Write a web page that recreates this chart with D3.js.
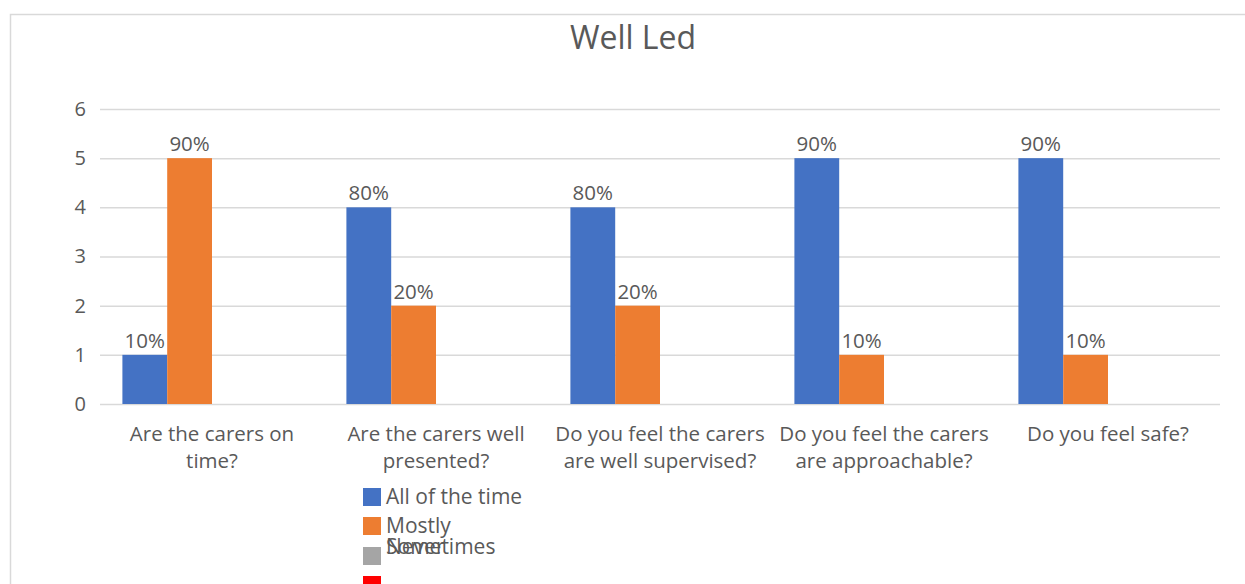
<!DOCTYPE html>
<html>
<head>
<meta charset="utf-8">
<script src="https://cdn.jsdelivr.net/npm/d3@7"></script>
<style>
  html, body { margin: 0; padding: 0; background: #fff; }
  svg { display: block; }
  text { font-family: "Open Sans", sans-serif; fill: #595959; }
</style>
</head>
<body>
<svg id="chart" width="1245" height="584"></svg>
<script>
const title = "Well Led";
const categories = [
  "Are the carers on time?",
  "Are the carers well presented?",
  "Do you feel the carers are well supervised?",
  "Do you feel the carers are approachable?",
  "Do you feel safe?"
];
const seriesNames = ["All of the time", "Mostly", "Sometimes", "Never"];
const allOfTheTime = [1, 4, 4, 5, 5];
const mostly = [5, 2, 2, 1, 1];
const sometimes = [0, 0, 0, 0, 0];
const never = [0, 0, 0, 0, 0];
const allOfTheTimeLabels = ["10%", "80%", "80%", "90%", "90%"];
const mostlyLabels = ["90%", "20%", "20%", "10%", "10%"];
const sometimesLabels = ["", "", "", "", ""];
const neverLabels = ["", "", "", "", ""];
const yTicks = [0, 1, 2, 3, 4, 5, 6];
const colors = ["#4472C4", "#ED7D31", "#A5A5A5", "#FF0000"];

const seriesValues = [allOfTheTime, mostly, sometimes, never];
const seriesLabels = [allOfTheTimeLabels, mostlyLabels, sometimesLabels, neverLabels];

const svg = d3.select("#chart");

// chart frame
svg.append("rect")
  .attr("x", 10.5).attr("y", 14.5)
  .attr("width", 1245).attr("height", 600)
  .attr("fill", "none").attr("stroke", "#d9d9d9").attr("stroke-width", 1.5);

const plot = { left: 100, right: 1220, top: 109, bottom: 404 };

const x0 = d3.scaleBand().domain(categories).range([plot.left, plot.right]).padding(0);
const x1 = d3.scaleBand().domain(seriesNames).range([0, x0.bandwidth()]).paddingInner(0).paddingOuter(0.5);
const y = d3.scaleLinear().domain([0, 6]).range([plot.bottom, plot.top]);

// title
svg.append("text")
  .attr("x", 633).attr("y", 49)
  .attr("text-anchor", "middle")
  .style("font-size", "32px")
  .text(title);

// gridlines
svg.append("g")
  .attr("transform", `translate(${plot.left},0)`)
  .call(d3.axisLeft(y).tickValues(yTicks).tickSize(-(plot.right - plot.left)).tickFormat(d3.format("d")))
  .call(g => g.select(".domain").remove())
  .call(g => g.selectAll(".tick line").attr("stroke", "#d9d9d9").attr("stroke-width", 1.5))
  .call(g => g.selectAll(".tick text").attr("x", -14).style("font-size", "20px").attr("fill", "#595959"));

// bars
const groups = svg.append("g").selectAll("g")
  .data(seriesNames)
  .join("g")
  .attr("fill", (d, i) => colors[i]);

groups.each(function(s, si) {
  const g = d3.select(this);
  g.selectAll("rect")
    .data(categories.map((c, ci) => ({ c, v: seriesValues[si][ci] })))
    .join("rect")
    .attr("x", d => x0(d.c) + x1(s))
    .attr("y", d => y(d.v))
    .attr("width", x1.bandwidth())
    .attr("height", d => y(0) - y(d.v));
  g.selectAll("text")
    .data(categories.map((c, ci) => ({ c, v: seriesValues[si][ci], l: seriesLabels[si][ci] })))
    .join("text")
    .attr("x", d => x0(d.c) + x1(s) + x1.bandwidth() / 2)
    .attr("y", d => y(d.v) - 7)
    .attr("text-anchor", "middle")
    .style("font-size", "20.5px")
    .text(d => d.l);
});

// category labels (wrapped)
const maxW = 215;
const catG = svg.append("g");
categories.forEach(c => {
  const cx = x0(c) + x0.bandwidth() / 2;
  const t = catG.append("text")
    .attr("x", cx)
    .attr("y", 441)
    .attr("text-anchor", "middle")
    .style("font-size", "20.5px");
  const words = c.split(" ");
  let line = [];
  let ts = t.append("tspan").attr("x", cx).attr("dy", 0);
  words.forEach(w => {
    line.push(w);
    ts.text(line.join(" "));
    if (ts.node().getComputedTextLength() > maxW && line.length > 1) {
      line.pop();
      ts.text(line.join(" "));
      line = [w];
      ts = t.append("tspan").attr("x", cx).attr("dy", 27).text(w);
    }
  });
});

// legend (reproducing overlapping layout)
const legendSquares = [488, 517, 547, 576];
const legendTextY = [504, 533, 554, 554];
const leg = svg.append("g");
seriesNames.forEach((s, i) => {
  leg.append("rect")
    .attr("x", 363).attr("y", legendSquares[i])
    .attr("width", 18).attr("height", 18)
    .attr("fill", colors[i]);
  leg.append("text")
    .attr("x", 386).attr("y", legendTextY[i])
    .style("font-size", "21px")
    .text(s);
});
</script>
</body>
</html>
